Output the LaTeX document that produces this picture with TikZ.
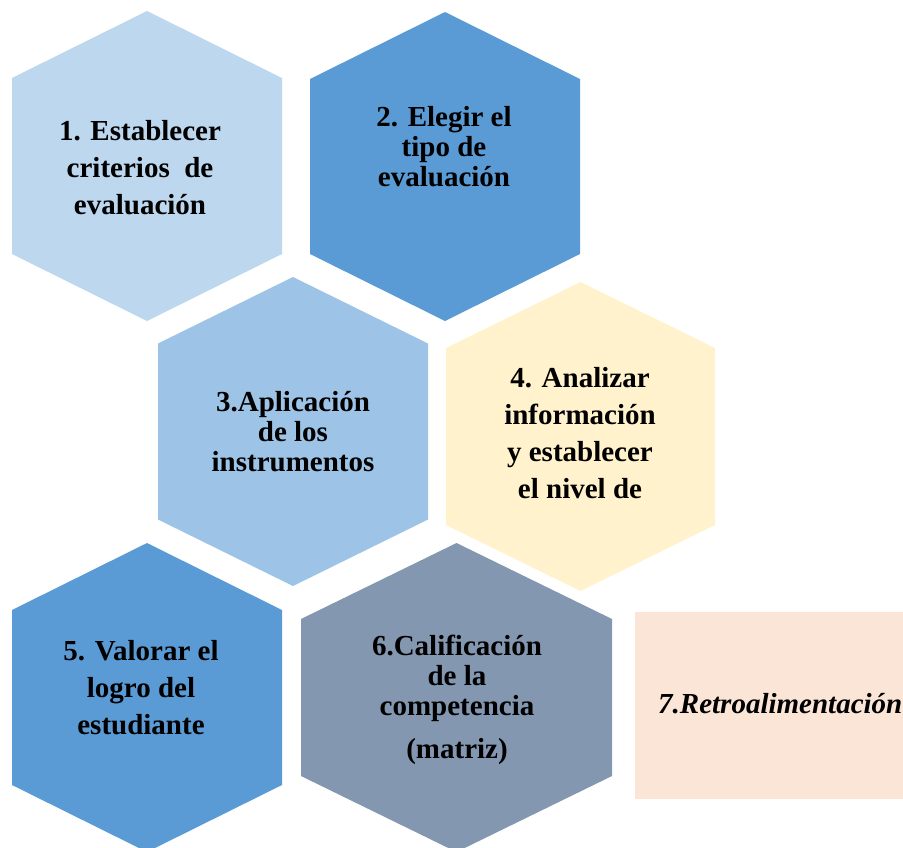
\documentclass[tikz,border=0pt]{standalone}
\usepackage{fontspec}
\setmainfont{Liberation Serif}
\usepackage{tikz}
\usetikzlibrary{calc,positioning}
\definecolor{azulclaro}{HTML}{BDD7EE}
\definecolor{azul}{HTML}{5B9BD5}
\definecolor{azulmedio}{HTML}{9DC3E6}
\definecolor{amarillo}{HTML}{FFF2CC}
\definecolor{grisazul}{HTML}{8497B0}
\definecolor{durazno}{HTML}{FBE5D6}
\tikzstyle{paso} = [align=center,font=\bfseries\fontsize{29}{37}\selectfont,inner sep=0pt]
\tikzstyle{pasoj} = [align=center,font=\bfseries\fontsize{29}{30}\selectfont,inner sep=0pt]
% centro x, centro y, medio ancho, medio lado, media altura, color
\newcommand{\hexagono}[6]{%
  \fill[#6] (#1-#3,#2-#4) -- (#1,#2-#5) -- (#1+#3,#2-#4) -- (#1+#3,#2+#4)
    -- (#1,#2+#5) -- (#1-#3,#2+#4) -- cycle;}

\begin{document}
\begin{tikzpicture}[x=1pt,y=-1pt]
	\useasboundingbox (0,0) rectangle (903,847);
	\clip (0,0) rectangle (903,847);
	\hexagono{147}{166}{135}{88}{155}{azulclaro}
	\hexagono{445}{166.5}{135}{87.5}{154.5}{azul}
	\hexagono{293}{431.5}{135}{88}{154.5}{azulmedio}
	\hexagono{580.5}{436.5}{134.5}{88.5}{154.5}{amarillo}
	\hexagono{147}{697.5}{135}{87.5}{154.5}{azul}
	\hexagono{456.5}{697.5}{155.5}{78.5}{154.5}{grisazul}
	\fill[durazno] (635,612) rectangle (910,799);
	\node[paso] (p_1) at (140,168) {1. Establecer\\criterios\ \ de\\evaluación};
	\node[pasoj] (p_2) at (444,147) {2. Elegir el\\tipo de\\evaluación};
	\node[pasoj] (p_3) at (293,432) {3.Aplicación\\de los\\instrumentos};
	\node[paso] (p_4) at (580,433) {4. Analizar\\información\\y establecer\\el nivel de};
	\node[paso] (p_5) at (141,688) {5. Valorar el\\logro del\\estudiante};
	\node[pasoj] (p_6) at (457,700) {6.Calificación\\de la\\competencia\\[13pt](matriz)};
	\node[font=\bfseries\itshape\fontsize{29}{30}\selectfont,inner sep=0pt,anchor=base west] (p_7) at (658,713) {7.Retroalimentación};
\end{tikzpicture}
\end{document}
